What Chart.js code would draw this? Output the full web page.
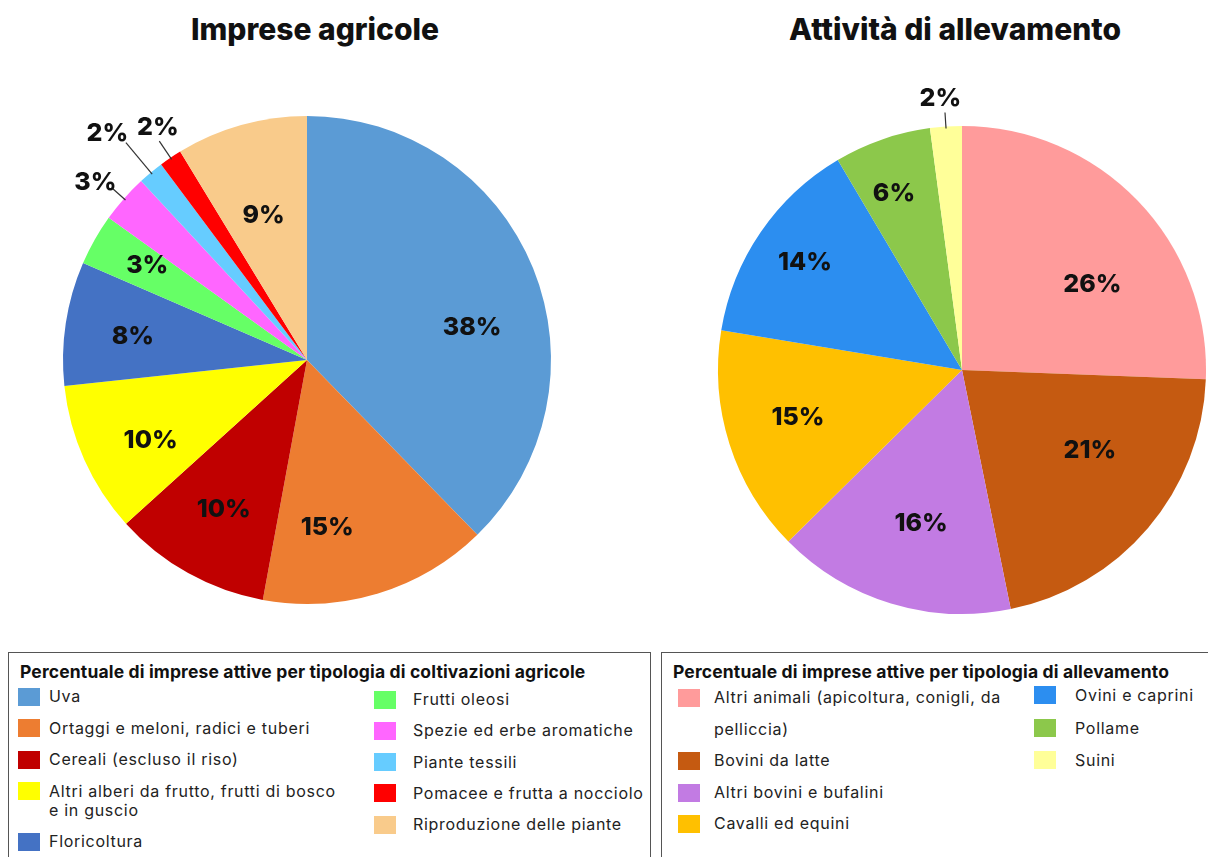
<!DOCTYPE html>
<html>
<head>
<meta charset="utf-8">
<script src="https://cdn.jsdelivr.net/npm/chart.js@4.4.1/dist/chart.umd.min.js"></script>
<style>
  html,body{margin:0;padding:0;background:#fff;}
  body{width:1208px;height:857px;position:relative;overflow:hidden;font-family:Inter,"Noto Sans",sans-serif;color:#1a1a1a;}
  canvas{position:absolute;}
  .title{position:absolute;top:14px;font-weight:800;font-size:30px;line-height:30px;text-align:center;color:#111;}
  .legend{position:absolute;top:652px;height:220px;border:1px solid #555;box-sizing:border-box;}
  .ltitle{position:absolute;left:11px;top:9px;font-weight:700;font-size:17.5px;line-height:20px;letter-spacing:0.15px;white-space:nowrap;color:#111;}
  .col{position:absolute;}
  .item{position:relative;font-size:16px;letter-spacing:0.7px;color:#222;}
  .sw{position:absolute;left:0;width:22px;height:18px;}
</style>
</head>
<body>
<div class="title" style="left:0;width:630px;">Imprese agricole</div>
<div class="title" style="left:620px;width:670px;">Attività di allevamento</div>
<canvas id="c1" width="620" height="640" style="left:0;top:0;width:620px;height:640px;"></canvas>
<canvas id="c2" width="588" height="640" style="left:620px;top:0;width:588px;height:640px;"></canvas>

<div class="legend" id="leg1" style="left:8px;width:643px;"></div>
<div class="legend" id="leg2" style="left:661px;width:560px;"></div>

<script>
// ---- Data: Imprese agricole ----
const cropCategories = [
  "Uva",
  "Ortaggi e meloni, radici e tuberi",
  "Cereali (escluso il riso)",
  "Altri alberi da frutto, frutti di bosco e in guscio",
  "Floricoltura",
  "Frutti oleosi",
  "Spezie ed erbe aromatiche",
  "Piante tessili",
  "Pomacee e frutta a nocciolo",
  "Riproduzione delle piante"
];
const cropValues = [37.7, 15.2, 10.4, 10.0, 8.2, 3.4, 3.2, 1.7, 1.5, 8.7];
const cropLabels = ["38%", "15%", "10%", "10%", "8%", "3%", "3%", "2%", "2%", "9%"];

// ---- Data: Attività di allevamento ----
const livestockCategories = [
  "Altri animali (apicoltura, conigli, da pelliccia)",
  "Bovini da latte",
  "Altri bovini e bufalini",
  "Cavalli ed equini",
  "Ovini e caprini",
  "Pollame",
  "Suini"
];
const livestockValues = [25.6, 21.2, 15.8, 15.0, 13.9, 6.4, 2.1];
const livestockLabels = ["26%", "21%", "16%", "15%", "14%", "6%", "2%"];

// ---- Styles ----
const cropColors = ["#5B9BD5","#ED7D31","#C00000","#FFFF00","#4472C4","#66FF66","#FF66FF","#66CCFF","#FF0000","#F9CB8B"];
const livestockColors = ["#FF9B9B","#C55A11","#C27BE3","#FFC000","#2C8EF0","#8CC84B","#FFFF99"];
// label placement styles: leader line length (0 = inside), radius ratio, angular nudge (deg)
const cropLeader = [0,0,0,0,0,0,16,39,20,0];
const cropLabelR = [0.69,0.69,0.70,0.72,0.72,0.76,1.131,1.238,1.131,0.62];
const cropLabelShift = [11,10,0,-3,-1,1,-1.5,-1.6,1.3,-1];
const livestockLeader = [0,0,0,0,0,0,14];
const livestockLabelR = [0.64,0.62,0.65,0.70,0.78,0.775,1.115];
const livestockLabelShift = [10.5,-8,-2,1.5,0,-2,-0.8];

const labelPlugin = {
  id: 'sliceLabels',
  afterDatasetsDraw(chart, args, opts) {
    const ctx = chart.ctx;
    const meta = chart.getDatasetMeta(0);
    ctx.save();
    ctx.font = '800 25px Inter, "Noto Sans", sans-serif';
    ctx.textAlign = 'center';
    ctx.textBaseline = 'middle';
    meta.data.forEach((arc, i) => {
      const p = arc.getProps(['x','y','startAngle','endAngle','outerRadius'], true);
      const mid = (p.startAngle + p.endAngle) / 2;
      const R = p.outerRadius;
      if (opts.leader[i] > 0) {
        const L = opts.leader[i];
        const c = Math.cos(mid), s = Math.sin(mid);
        ctx.strokeStyle = '#333';
        ctx.lineWidth = 1.2;
        ctx.beginPath();
        ctx.moveTo(p.x + c * (R - 2), p.y + s * (R - 2));
        ctx.lineTo(p.x + c * (R + L), p.y + s * (R + L));
        ctx.stroke();
      }
      const a = mid + opts.shift[i] * Math.PI / 180;
      const r = R * opts.ratio[i];
      ctx.fillStyle = '#111';
      ctx.fillText(opts.labels[i], p.x + Math.cos(a) * r, p.y + Math.sin(a) * r);
    });
    ctx.restore();
  }
};

function makePie(id, cats, vals, colors, labelOpts, pad) {
  return new Chart(document.getElementById(id), {
    type: 'pie',
    data: { labels: cats, datasets: [{ data: vals, backgroundColor: colors, borderWidth: 0 }] },
    options: {
      responsive: false,
      animation: false,
      layout: { padding: pad },
      plugins: {
        legend: { display: false },
        tooltip: { enabled: false },
        title: { display: false },
        sliceLabels: labelOpts
      }
    },
    plugins: [labelPlugin]
  });
}

makePie('c1', cropCategories, cropValues, cropColors,
  { labels: cropLabels, leader: cropLeader, ratio: cropLabelR, shift: cropLabelShift },
  { left: 63, right: 69, top: 116, bottom: 36 });
makePie('c2', livestockCategories, livestockValues, livestockColors,
  { labels: livestockLabels, leader: livestockLeader, ratio: livestockLabelR, shift: livestockLabelShift },
  { left: 98, right: 2, top: 126, bottom: 26 });

// ---- HTML legends built from the arrays ----
function buildLegend(el, title, cats, colors, cols) {
  const t = document.createElement('div');
  t.className = 'ltitle';
  t.textContent = title;
  el.appendChild(t);
  cols.forEach(c => {
    const col = document.createElement('div');
    col.className = 'col';
    col.style.left = c.left + 'px';
    col.style.top = c.top + 'px';
    col.style.width = c.width + 'px';
    c.idx.forEach(i => {
      const it = document.createElement('div');
      it.className = 'item';
      it.style.lineHeight = c.lh + 'px';
      it.style.marginBottom = c.gap + 'px';
      const sw = document.createElement('span');
      sw.className = 'sw';
      sw.style.background = colors[i];
      sw.style.top = c.swTop + 'px';
      const tx = document.createElement('div');
      tx.style.marginLeft = c.textOff + 'px';
      tx.textContent = cats[i];
      it.appendChild(sw);
      it.appendChild(tx);
      col.appendChild(it);
    });
    el.appendChild(col);
  });
}

buildLegend(document.getElementById('leg1'),
  "Percentuale di imprese attive per tipologia di coltivazioni agricole",
  cropCategories, cropColors, [
    { left: 9, top: 34, width: 332, lh: 19, gap: 12.5, swTop: 0.5, textOff: 31, idx: [0,1,2,3,4] },
    { left: 365, top: 37, width: 275, lh: 19, gap: 12.3, swTop: 0.5, textOff: 39, idx: [5,6,7,8,9] }
  ]);
buildLegend(document.getElementById('leg2'),
  "Percentuale di imprese attive per tipologia di allevamento",
  livestockCategories, livestockColors, [
    { left: 16, top: 29, width: 340, lh: 31.6, gap: 0, swTop: 7, textOff: 36, idx: [0,1,2,3] },
    { left: 372, top: 26, width: 180, lh: 32.5, gap: 0, swTop: 7, textOff: 41, idx: [4,5,6] }
  ]);
</script>
</body>
</html>
